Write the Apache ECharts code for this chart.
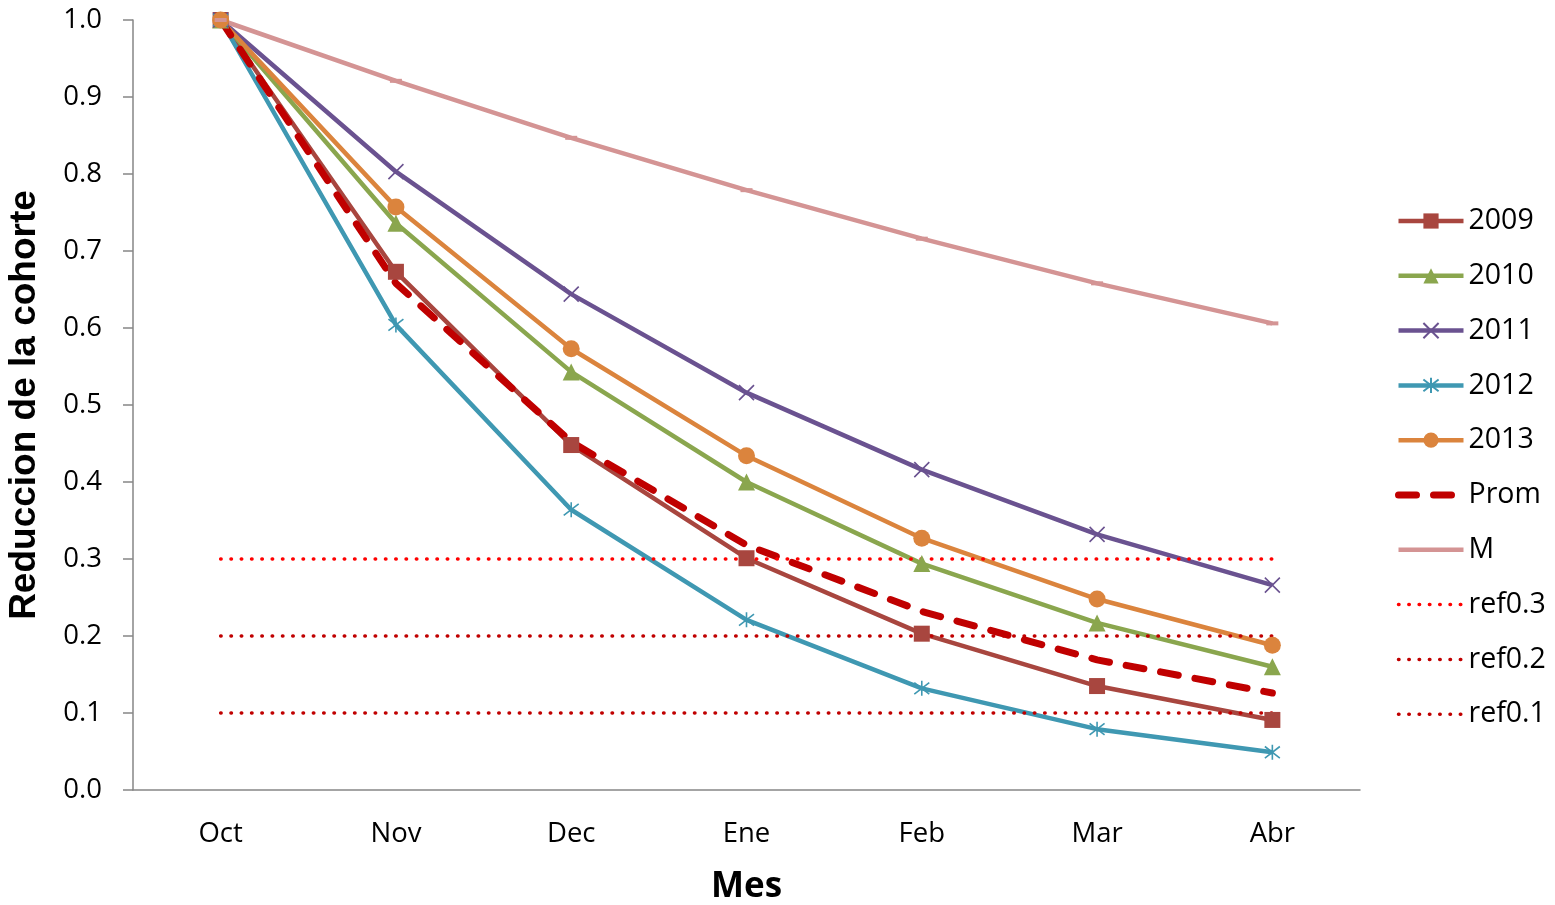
<!DOCTYPE html>
<html>
<head>
<meta charset="utf-8">
<script src="https://cdn.jsdelivr.net/npm/echarts@6/dist/echarts.min.js"></script>
<style>
  html, body { margin: 0; padding: 0; background: #fff; }
  #chart { width: 1555px; height: 905px; }
</style>
</head>
<body>
<div id="chart"></div>
<script>
const months = ['Oct', 'Nov', 'Dec', 'Ene', 'Feb', 'Mar', 'Abr'];

const y2009 = [1.0, 0.673, 0.448, 0.301, 0.203, 0.135, 0.091];
const y2010 = [1.0, 0.736, 0.543, 0.400, 0.294, 0.217, 0.160];
const y2011 = [1.0, 0.803, 0.644, 0.516, 0.416, 0.332, 0.266];
const y2012 = [1.0, 0.604, 0.364, 0.221, 0.132, 0.079, 0.049];
const y2013 = [1.0, 0.757, 0.573, 0.434, 0.327, 0.248, 0.188];
const prom = [1.0, 0.658, 0.452, 0.318, 0.232, 0.169, 0.126];
const mort = [1.0, 0.921, 0.847, 0.779, 0.716, 0.658, 0.606];
const ref03 = [0.3, 0.3, 0.3, 0.3, 0.3, 0.3, 0.3];
const ref02 = [0.2, 0.2, 0.2, 0.2, 0.2, 0.2, 0.2];
const ref01 = [0.1, 0.1, 0.1, 0.1, 0.1, 0.1, 0.1];

const FONT = 'Open Sans';
const xMark = 'path://M0,0L10,10M10,0L0,10';
const starMark = 'path://M0,0L10,10M10,0L0,10M5,-1.5L5,11.5';

const solid = (name, data, color, symbol, size, extra) => Object.assign({
  name,
  type: 'line',
  data,
  symbol,
  symbolSize: size,
  showSymbol: true,
  lineStyle: { width: 4.5, color },
  itemStyle: { color },
}, extra || {});

const refLine = (name, data, color) => ({
  name,
  type: 'line',
  data,
  symbol: 'none',
  lineStyle: { width: 3.5, color, type: [0.5, 9.8], cap: 'round' },
  itemStyle: { color },
});

// no marker in the legend for these lines
const noMark = (name) => ({ name, itemStyle: { opacity: 0 } });

const chart = echarts.init(document.getElementById('chart'));
chart.setOption({
  animation: false,
  textStyle: { fontFamily: FONT },
  grid: { left: 133, right: 195, top: 20, bottom: 115, outerBoundsMode: 'none' },
  legend: {
    orient: 'vertical',
    left: 1395,
    top: 206,
    padding: 0,
    itemWidth: 65,
    itemHeight: 19,
    itemGap: 24.8,
    lineStyle: { width: 'inherit', type: 'inherit', cap: 'inherit' },
    textStyle: { fontSize: 28.5, lineHeight: 30, color: '#000', fontFamily: FONT },
    data: ['2009', '2010', '2011', '2012', '2013', noMark('Prom'), noMark('M'),
      noMark('ref0.3'), noMark('ref0.2'), noMark('ref0.1')],
  },
  xAxis: {
    type: 'category',
    data: months,
    boundaryGap: true,
    name: 'Mes',
    nameLocation: 'middle',
    nameGap: 80,
    nameTextStyle: { fontSize: 35, fontWeight: 'bold', color: '#000', fontFamily: FONT },
    axisLine: { lineStyle: { color: '#868686', width: 1.5 } },
    axisTick: { length: 10, lineStyle: { color: '#868686', width: 1.5 } },
    axisLabel: { fontSize: 27.5, color: '#000', margin: 30, fontFamily: FONT },
  },
  yAxis: {
    type: 'value',
    min: 0,
    max: 1,
    interval: 0.1,
    name: 'Reduccion de la cohorte',
    nameLocation: 'middle',
    nameGap: 90,
    nameTextStyle: { fontSize: 37, fontWeight: 'bold', color: '#000', fontFamily: 'Liberation Sans' },
    axisLine: { show: true, lineStyle: { color: '#868686', width: 1.5 } },
    axisTick: { show: true, length: 10, lineStyle: { color: '#868686', width: 1.5 } },
    splitLine: { show: false },
    axisLabel: {
      fontSize: 27.5,
      color: '#000',
      margin: 31,
      fontFamily: FONT,
      formatter: (v) => v.toFixed(1),
    },
  },
  series: [
    solid('2009', y2009, '#A8463F', 'rect', 16),
    solid('2010', y2010, '#8AA64E', 'triangle', 17),
    solid('2011', y2011, '#6A5290', xMark, 15, {
      itemStyle: { color: '#6A5290', borderColor: '#6A5290', borderWidth: 1.6 },
    }),
    solid('2012', y2012, '#3F98B2', starMark, 15, {
      itemStyle: { color: '#3F98B2', borderColor: '#3F98B2', borderWidth: 1.6 },
    }),
    solid('2013', y2013, '#DB843D', 'circle', 17),
    {
      name: 'Prom',
      type: 'line',
      data: prom,
      symbol: 'none',
      lineStyle: { width: 7, color: '#C00000', type: [18, 17], cap: 'round' },
      itemStyle: { color: '#C00000' },
    },
    solid('M', mort, '#D49494', 'rect', [12, 4]),
    refLine('ref0.3', ref03, '#FF0000'),
    refLine('ref0.2', ref02, '#C00000'),
    refLine('ref0.1', ref01, '#C00000'),
  ],
});
</script>
</body>
</html>
